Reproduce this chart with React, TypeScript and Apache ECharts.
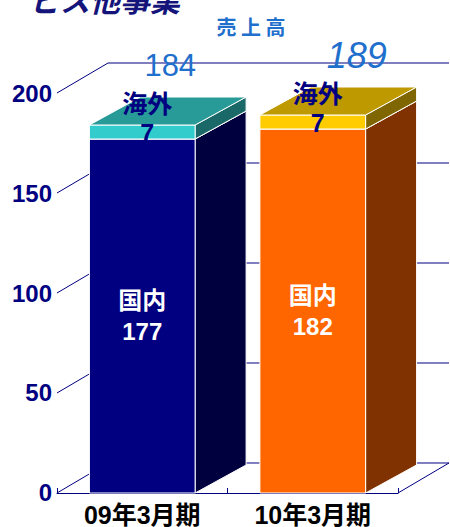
import React, { useEffect, useRef } from 'react';
import * as echarts from 'echarts';

// ---- data ----
const categories = ['09年3月期', '10年3月期'];
const domesticValues = [177, 182];
const overseasValues = [7, 7];
const totalValues = [184, 189];
const segmentNames = ['国内', '海外'];
const yTickValues = [0, 50, 100, 150, 200];
const chartTitle = '売 上 高';
const headerText = 'ビス他事業';

// ---- styles ----
const FONT = "'Liberation Sans', Arial, 'Noto Sans CJK JP', sans-serif";
const CJK_FONT = "'Noto Sans CJK JP', 'Liberation Sans', sans-serif";
const NAVY = '#000080';
const BLUE = '#1f6fcc';
const BAR_COLORS = [
  {
    domestic: { front: '#000080', side: '#00003f', top: '#000066' },
    overseas: { front: '#33cccc', side: '#1b6868', top: '#289a98' },
  },
  {
    domestic: { front: '#ff6600', side: '#803300', top: '#cc5200' },
    overseas: { front: '#ffcc00', side: '#806600', top: '#bf9900' },
  },
];
const TOTAL_LABEL_LAYOUT = [
  { dx: 28, dy: -60, size: 31, italic: false },
  { dx: 44, dy: -60, size: 36, italic: true },
];
const BAR_DEPTH = [51, -28];
const WALL_DEPTH = [51, -30];
const BAR_WIDTH_RATIO = 0.62;

export default function App() {
  const ref = useRef<HTMLDivElement>(null);

  useEffect(() => {
    if (!ref.current) return;
    const chart = echarts.init(ref.current, undefined, { renderer: 'svg' });

    const wallData = yTickValues.map((v) => [0, v]);
    const barData = categories.map((_, i) => [i, domesticValues[i], overseasValues[i], totalValues[i]]);

    const option: any = {
      animation: false,
      backgroundColor: '#ffffff',
      grid: { left: 57, top: 93, width: 341, height: 400, containLabel: false },
      xAxis: {
        type: 'category',
        data: categories,
        boundaryGap: true,
        axisLine: { show: true, lineStyle: { color: NAVY, width: 1 } },
        axisTick: { show: true, inside: true, length: 5, lineStyle: { color: NAVY, width: 1 } },
        axisLabel: { color: '#000000', fontSize: 25, fontWeight: 'bold', fontFamily: FONT, margin: 9 },
        splitLine: { show: false },
      },
      yAxis: {
        type: 'value',
        min: 0,
        max: 200,
        interval: 50,
        axisLine: { show: false },
        axisTick: { show: false },
        splitLine: { show: false },
        axisLabel: { color: NAVY, fontSize: 24, fontWeight: 'bold', fontFamily: FONT, margin: 5 },
      },
      graphic: [
        {
          type: 'text',
          left: 30,
          top: -16,
          style: {
            text: headerText,
            fill: '#14147a',
            font: `italic bold 30px ${CJK_FONT}`,
          },
        },
        {
          type: 'text',
          x: 251,
          y: 26,
          style: {
            text: chartTitle,
            fill: BLUE,
            font: `bold 20px ${CJK_FONT}`,
            align: 'center',
            verticalAlign: 'middle',
          },
        },
      ],
      series: [
        {
          type: 'custom',
          z: 1,
          data: wallData,
          encode: { x: 0, y: 1 },
          renderItem: (params: any, api: any) => {
            const v = api.value(1);
            const band = api.size([1, 0])[0];
            const c = api.coord([0, v]);
            const xl = c[0] - band / 2;
            const xr = xl + band * categories.length;
            const y = c[1];
            const [dx, dy] = WALL_DEPTH;
            const ls = { stroke: NAVY, lineWidth: 1 };
            const children: any[] = [
              { type: 'line', shape: { x1: xl, y1: y, x2: xl + dx, y2: y + dy }, style: ls },
              { type: 'line', shape: { x1: xl + dx, y1: y + dy, x2: xr + dx, y2: y + dy }, style: ls },
            ];
            if (v === yTickValues[0]) {
              children.push({ type: 'line', shape: { x1: xr, y1: y, x2: xr + dx, y2: y + dy }, style: ls });
            }
            return { type: 'group', children };
          },
        },
        {
          type: 'custom',
          z: 3,
          data: barData,
          encode: { x: 0, y: 3 },
          renderItem: (params: any, api: any) => {
            const i = api.value(0);
            const dom = api.value(1);
            const ovs = api.value(2);
            const tot = api.value(3);
            const band = api.size([1, 0])[0];
            const w = band * BAR_WIDTH_RATIO;
            const c = api.coord([i, 0]);
            const x0 = c[0] - w / 2;
            const x1 = x0 + w;
            const y0 = c[1];
            const yD = api.coord([i, dom])[1];
            const yT = api.coord([i, dom + ovs])[1];
            const [dx, dy] = BAR_DEPTH;
            const col = BAR_COLORS[i];
            const edge = { stroke: '#ffffff', lineWidth: 1 };
            const box = (yb: number, yt: number, cl: any) => [
              {
                type: 'polygon',
                shape: { points: [[x1, yb], [x1, yt], [x1 + dx, yt + dy], [x1 + dx, yb + dy]] },
                style: { fill: cl.side, ...edge },
              },
              {
                type: 'rect',
                shape: { x: x0, y: yt, width: w, height: yb - yt },
                style: { fill: cl.front, ...edge },
              },
              {
                type: 'polygon',
                shape: { points: [[x0, yt], [x1, yt], [x1 + dx, yt + dy], [x0 + dx, yt + dy]] },
                style: { fill: cl.top, ...edge },
              },
            ];
            const cx = (x0 + x1) / 2;
            const lay = TOTAL_LABEL_LAYOUT[i];
            const children: any[] = [
              ...box(y0, yD, col.domestic),
              ...box(yD, yT, col.overseas),
              {
                type: 'text',
                x: cx,
                y: (y0 + yD) / 2,
                style: {
                  text: `${segmentNames[0]}\n${dom}`,
                  fill: '#ffffff',
                  font: `bold 24px ${FONT}`,
                  lineHeight: 31,
                  align: 'center',
                  verticalAlign: 'middle',
                },
              },
              {
                type: 'text',
                x: cx + 5,
                y: (yD + yT) / 2 - 14,
                style: {
                  text: `${segmentNames[1]}\n${ovs}`,
                  fill: NAVY,
                  font: `bold 25px ${FONT}`,
                  lineHeight: 29,
                  align: 'center',
                  verticalAlign: 'middle',
                },
              },
              {
                type: 'text',
                x: cx + lay.dx,
                y: yT + lay.dy,
                style: {
                  text: `${tot}`,
                  fill: BLUE,
                  font: `${lay.italic ? 'italic ' : ''}normal ${lay.size}px ${FONT}`,
                  align: 'center',
                  verticalAlign: 'middle',
                },
              },
            ];
            return { type: 'group', children };
          },
        },
      ],
    };

    chart.setOption(option);
    return () => chart.dispose();
  }, []);

  return (
    <div
      ref={ref}
      style={{ position: 'absolute', left: 0, top: 0, width: '450px', height: '527px' }}
    />
  );
}
